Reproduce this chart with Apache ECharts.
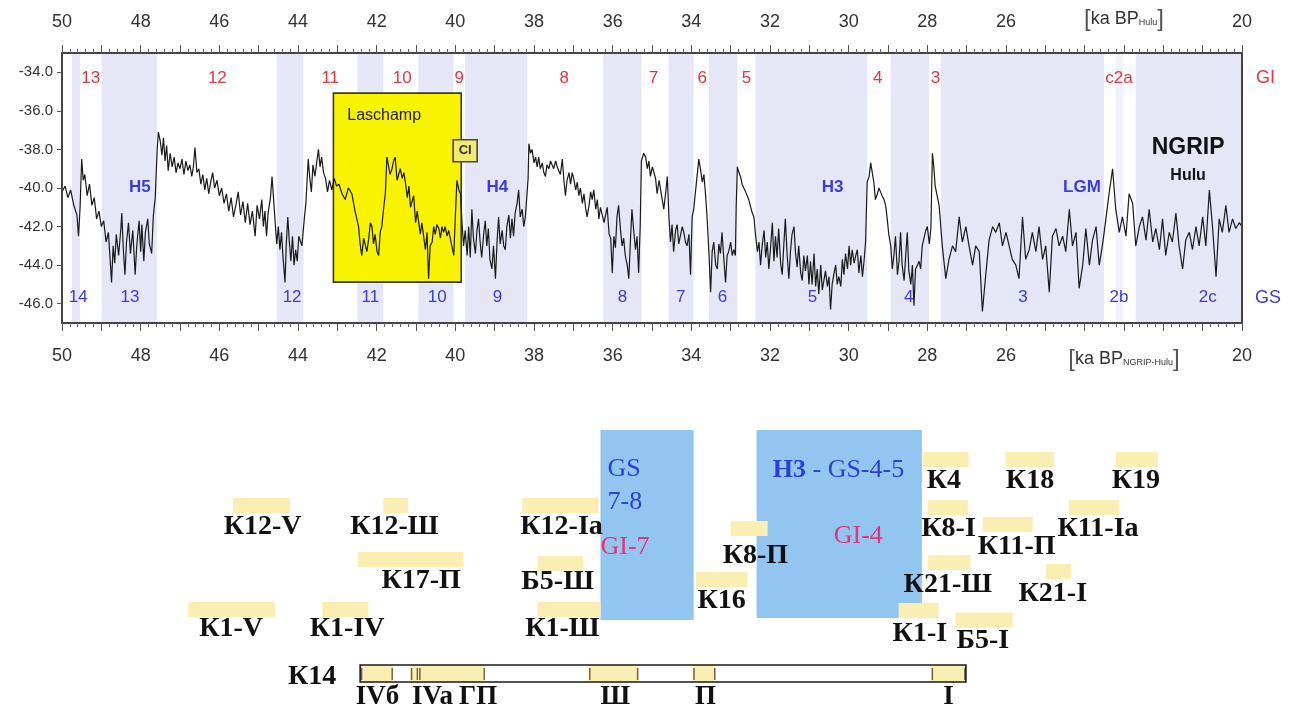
<!DOCTYPE html>
<html><head><meta charset="utf-8">
<script src="https://cdn.jsdelivr.net/npm/echarts@6/dist/echarts.min.js"></script>
<style>html,body{margin:0;padding:0;background:#fff}#c{width:1295px;height:709px}</style>
</head><body><div id="c"></div>
<script>
// ---------- DATA ----------
// NGRIP d18O (permil) vs age (ka BP)
const ngripPoints = [
[50.00,-40.2],[49.92,-39.9],[49.85,-40.5],[49.78,-40.1],[49.70,-40.9],[49.62,-41.4],[49.58,-42.5],[49.54,-41.0],[49.50,-38.5],[49.46,-39.6],
[49.42,-39.3],[49.36,-40.4],[49.30,-39.8],[49.24,-40.9],[49.18,-40.5],[49.12,-41.6],[49.06,-41.2],[49.00,-42.0],[48.94,-41.7],[48.88,-42.8],
[48.82,-42.3],[48.78,-43.6],[48.74,-44.9],[48.70,-43.0],[48.66,-43.9],[48.62,-42.4],[48.56,-43.5],[48.50,-42.0],[48.48,-41.3],[48.44,-43.2],
[48.40,-44.5],[48.36,-42.8],[48.31,-41.8],[48.26,-43.4],[48.20,-42.2],[48.14,-44.5],[48.10,-43.0],[48.04,-41.7],[48.00,-43.3],[47.97,-41.9],
[47.92,-43.8],[47.88,-42.3],[47.82,-41.6],[47.78,-42.9],[47.72,-43.4],[47.68,-41.5],[47.63,-40.5],[47.58,-38.0],[47.55,-37.1],[47.50,-37.6],
[47.46,-38.3],[47.42,-37.4],[47.38,-38.6],[47.34,-37.8],[47.30,-39.1],[47.25,-38.2],[47.20,-38.9],[47.15,-38.4],[47.10,-39.2],[47.05,-38.7],
[47.00,-39.0],[46.95,-38.5],[46.90,-39.3],[46.85,-38.6],[46.80,-39.1],[46.75,-38.8],[46.70,-39.4],[46.66,-38.9],[46.62,-37.9],[46.57,-39.2],
[46.52,-39.0],[46.47,-39.8],[46.42,-39.3],[46.37,-40.1],[46.32,-39.5],[46.27,-40.3],[46.22,-39.7],[46.17,-39.2],[46.12,-40.0],[46.06,-39.6],
[46.00,-40.4],[45.94,-40.0],[45.88,-40.8],[45.82,-40.3],[45.76,-41.2],[45.70,-40.5],[45.64,-41.5],[45.58,-40.9],[45.52,-40.2],[45.46,-41.4],
[45.40,-40.7],[45.34,-41.8],[45.28,-40.8],[45.22,-41.9],[45.16,-41.2],[45.09,-42.5],[45.04,-40.9],[44.98,-41.6],[44.92,-40.6],[44.88,-42.0],
[44.84,-41.2],[44.80,-42.5],[44.76,-41.3],[44.70,-40.5],[44.66,-39.4],[44.62,-40.6],[44.58,-41.8],[44.54,-42.9],[44.50,-42.0],[44.46,-43.2],
[44.42,-42.3],[44.38,-43.6],[44.33,-44.9],[44.30,-43.0],[44.26,-41.5],[44.22,-42.8],[44.18,-43.8],[44.14,-42.5],[44.10,-44.0],[44.06,-43.2],
[44.02,-43.8],[43.98,-42.5],[43.90,-43.0],[43.84,-41.6],[43.80,-40.8],[43.74,-38.5],[43.70,-39.5],[43.66,-40.2],[43.62,-38.8],[43.57,-39.4],
[43.52,-38.6],[43.48,-38.0],[43.44,-38.9],[43.40,-38.4],[43.35,-39.2],[43.30,-39.5],[43.25,-40.2],[43.20,-39.6],[43.14,-40.1],[43.08,-39.5],
[43.02,-39.9],[42.96,-39.8],[42.88,-40.3],[42.80,-40.6],[42.72,-40.0],[42.63,-40.3],[42.55,-41.2],[42.46,-42.0],[42.42,-42.9],[42.38,-43.5],
[42.33,-42.6],[42.29,-42.5],[42.25,-43.3],[42.20,-42.6],[42.16,-41.8],[42.12,-42.0],[42.08,-42.9],[42.04,-42.4],[41.99,-43.3],[41.95,-43.5],
[41.91,-42.3],[41.87,-42.0],[41.82,-41.0],[41.78,-40.3],[41.74,-38.4],[41.70,-38.5],[41.66,-39.3],[41.61,-39.0],[41.57,-38.6],[41.53,-38.4],
[41.48,-39.6],[41.44,-39.7],[41.40,-39.0],[41.35,-39.5],[41.31,-39.2],[41.27,-39.7],[41.22,-40.5],[41.18,-39.9],[41.14,-41.0],[41.10,-41.1],
[41.06,-40.4],[41.01,-41.8],[40.97,-41.2],[40.93,-41.1],[40.89,-42.4],[40.85,-41.8],[40.80,-42.6],[40.76,-43.2],[40.72,-42.3],[40.68,-44.7],
[40.64,-43.0],[40.59,-42.8],[40.55,-42.0],[40.51,-42.4],[40.47,-41.9],[40.42,-42.1],[40.38,-42.6],[40.34,-42.0],[40.30,-42.3],[40.26,-42.0],
[40.21,-42.5],[40.17,-42.2],[40.13,-42.6],[40.09,-42.5],[40.04,-43.5],[40.00,-41.5],[39.96,-39.6],[39.91,-40.1],[39.87,-40.3],[39.83,-41.8],
[39.79,-43.0],[39.75,-42.2],[39.70,-43.5],[39.66,-42.0],[39.62,-43.6],[39.58,-41.1],[39.54,-42.6],[39.49,-43.4],[39.45,-42.2],[39.41,-41.6],
[39.37,-42.8],[39.33,-43.6],[39.28,-42.4],[39.24,-41.7],[39.20,-43.0],[39.16,-42.1],[39.12,-43.7],[39.07,-44.2],[39.03,-43.0],[38.98,-44.7],
[38.94,-42.8],[38.90,-41.5],[38.86,-42.9],[38.81,-42.2],[38.77,-43.0],[38.73,-43.2],[38.69,-42.0],[38.64,-41.4],[38.60,-42.6],[38.56,-41.6],
[38.52,-42.5],[38.48,-41.3],[38.43,-40.8],[38.39,-40.1],[38.35,-41.5],[38.30,-41.1],[38.26,-42.0],[38.22,-41.5],[38.18,-41.6],[38.15,-39.5],
[38.13,-37.7],[38.09,-38.2],[38.05,-38.0],[38.00,-38.7],[37.96,-38.4],[37.92,-38.9],[37.88,-38.4],[37.84,-39.0],[37.79,-38.7],[37.75,-39.2],
[37.71,-39.4],[37.67,-38.8],[37.62,-39.0],[37.58,-38.6],[37.54,-38.7],[37.50,-39.0],[37.45,-38.6],[37.41,-38.9],[37.37,-38.9],[37.33,-39.3],
[37.28,-38.5],[37.24,-39.6],[37.20,-40.4],[37.16,-39.6],[37.11,-39.2],[37.07,-39.8],[37.03,-39.2],[36.99,-39.5],[36.94,-40.1],[36.90,-39.7],
[36.86,-40.4],[36.82,-40.0],[36.77,-40.8],[36.73,-40.3],[36.69,-41.0],[36.65,-41.5],[36.60,-40.9],[36.56,-40.2],[36.52,-40.6],[36.48,-40.1],
[36.43,-41.1],[36.39,-40.6],[36.35,-41.6],[36.31,-41.0],[36.26,-40.9],[36.22,-41.8],[36.18,-41.8],[36.14,-41.0],[36.09,-42.4],[36.05,-42.6],
[36.01,-44.4],[35.97,-42.5],[35.93,-43.1],[35.89,-41.5],[35.85,-40.9],[35.80,-42.2],[35.76,-43.0],[35.72,-42.6],[35.68,-43.5],[35.63,-44.0],
[35.59,-44.7],[35.55,-42.8],[35.51,-41.1],[35.47,-42.1],[35.42,-43.2],[35.38,-42.5],[35.34,-44.4],[35.30,-42.0],[35.27,-38.6],[35.21,-38.2],
[35.16,-38.4],[35.12,-39.0],[35.08,-38.6],[35.04,-39.4],[34.99,-38.9],[34.95,-38.9],[34.91,-39.5],[34.87,-40.3],[34.82,-39.6],[34.78,-39.7],
[34.74,-40.6],[34.70,-41.1],[34.65,-40.2],[34.61,-39.4],[34.57,-41.5],[34.53,-42.8],[34.49,-41.9],[34.45,-43.3],[34.40,-42.2],[34.36,-41.9],
[34.32,-42.9],[34.28,-42.5],[34.23,-42.0],[34.19,-42.3],[34.15,-42.8],[34.11,-43.0],[34.06,-42.4],[34.02,-44.5],[33.98,-41.5],[33.94,-41.1],
[33.90,-40.3],[33.86,-39.5],[33.81,-38.5],[33.77,-39.0],[33.72,-39.7],[33.68,-39.3],[33.64,-40.3],[33.60,-41.5],[33.55,-43.5],[33.51,-45.4],
[33.47,-43.3],[33.43,-42.8],[33.38,-44.0],[33.34,-44.2],[33.30,-42.9],[33.26,-43.4],[33.22,-42.3],[33.17,-43.8],[33.13,-44.9],[33.09,-43.5],
[33.05,-43.3],[33.00,-42.8],[32.96,-43.5],[32.92,-43.2],[32.88,-43.5],[32.86,-41.0],[32.83,-38.9],[32.79,-39.2],[32.75,-39.4],[32.71,-39.8],
[32.66,-39.9],[32.62,-40.2],[32.58,-40.3],[32.54,-40.6],[32.49,-40.6],[32.45,-41.3],[32.41,-41.5],[32.37,-42.4],[32.32,-43.3],[32.28,-42.8],
[32.24,-44.0],[32.20,-43.0],[32.15,-42.2],[32.11,-43.6],[32.07,-42.8],[32.03,-44.2],[31.99,-43.2],[31.94,-41.8],[31.90,-43.8],[31.86,-42.5],
[31.82,-43.6],[31.78,-42.1],[31.73,-43.9],[31.69,-44.5],[31.65,-43.0],[31.61,-41.6],[31.56,-43.6],[31.52,-44.7],[31.48,-43.3],[31.44,-42.4],
[31.39,-42.0],[31.35,-43.4],[31.31,-44.1],[31.27,-43.0],[31.22,-44.4],[31.18,-44.8],[31.14,-43.5],[31.10,-44.3],[31.05,-43.5],[31.01,-45.0],
[30.97,-43.8],[30.93,-45.0],[30.88,-43.4],[30.84,-45.1],[30.80,-44.2],[30.76,-45.5],[30.71,-44.0],[30.67,-45.3],[30.63,-45.4],[30.59,-44.3],
[30.54,-45.1],[30.50,-44.6],[30.46,-46.3],[30.42,-45.0],[30.37,-44.4],[30.33,-44.0],[30.29,-45.0],[30.25,-44.6],[30.20,-45.1],[30.16,-43.7],
[30.12,-44.5],[30.08,-43.4],[30.03,-44.2],[29.99,-43.0],[29.95,-44.0],[29.91,-43.2],[29.86,-43.9],[29.82,-43.5],[29.78,-43.2],[29.74,-44.4],
[29.69,-43.5],[29.65,-44.6],[29.61,-43.8],[29.57,-42.8],[29.53,-39.7],[29.48,-39.4],[29.44,-38.7],[29.40,-39.2],[29.36,-39.7],[29.32,-40.6],
[29.27,-40.3],[29.23,-40.0],[29.19,-40.2],[29.15,-40.4],[29.10,-40.6],[29.06,-40.9],[29.02,-41.6],[28.98,-42.4],[28.93,-43.0],[28.89,-44.2],
[28.85,-43.5],[28.81,-42.5],[28.76,-44.5],[28.72,-43.8],[28.68,-42.3],[28.64,-44.0],[28.59,-44.8],[28.55,-43.5],[28.51,-42.3],[28.47,-44.3],
[28.42,-45.0],[28.38,-44.0],[28.34,-46.1],[28.30,-44.2],[28.25,-44.0],[28.21,-43.8],[28.17,-44.2],[28.13,-43.0],[28.08,-43.0],[28.04,-42.2],
[28.00,-42.0],[27.95,-42.9],[27.91,-42.1],[27.89,-40.0],[27.87,-38.2],[27.84,-38.8],[27.80,-39.9],[27.75,-40.0],[27.70,-40.9],[27.62,-43.0],
[27.53,-44.7],[27.45,-43.7],[27.36,-43.0],[27.28,-43.3],[27.19,-41.5],[27.11,-42.8],[27.02,-42.0],[26.94,-43.0],[26.85,-44.0],[26.77,-43.0],
[26.68,-43.3],[26.60,-46.4],[26.51,-44.4],[26.43,-42.7],[26.34,-42.0],[26.26,-42.3],[26.17,-41.8],[26.09,-43.0],[26.00,-42.3],[25.92,-43.0],
[25.84,-43.7],[25.75,-44.0],[25.67,-44.7],[25.58,-41.5],[25.50,-43.7],[25.41,-43.2],[25.33,-42.3],[25.24,-43.3],[25.16,-42.0],[25.07,-43.7],
[24.99,-43.0],[24.90,-45.4],[24.82,-42.5],[24.73,-42.1],[24.65,-43.0],[24.56,-42.5],[24.48,-43.3],[24.39,-41.1],[24.31,-43.0],[24.22,-42.3],
[24.14,-45.2],[24.05,-44.0],[23.97,-42.1],[23.88,-44.0],[23.80,-42.7],[23.71,-42.0],[23.63,-44.0],[23.55,-43.0],[23.46,-41.6],[23.38,-40.3],
[23.29,-39.0],[23.21,-41.1],[23.12,-42.3],[23.04,-41.5],[22.95,-42.5],[22.87,-40.3],[22.78,-40.8],[22.70,-43.0],[22.61,-42.0],[22.53,-41.5],
[22.44,-42.7],[22.36,-41.1],[22.27,-42.8],[22.19,-42.1],[22.10,-43.2],[22.02,-41.6],[21.94,-43.5],[21.85,-42.3],[21.77,-42.8],[21.68,-41.3],
[21.60,-43.0],[21.51,-44.2],[21.43,-42.7],[21.34,-42.3],[21.26,-43.2],[21.17,-42.0],[21.09,-43.0],[21.00,-41.5],[20.92,-43.0],[20.83,-40.1],
[20.75,-42.0],[20.66,-44.6],[20.58,-41.6],[20.50,-42.3],[20.41,-40.9],[20.33,-42.3],[20.24,-41.6],[20.16,-42.1],[20.07,-41.8],[20.00,-42.0]
];

// Greenland stadials (shaded), ka
const gsBandFrom = [49.75, 48.99, 44.54, 42.49, 40.94, 39.75, 36.24, 34.58, 33.55, 32.37, 28.93, 27.66, 22.70];
const gsBandTo   = [49.54, 47.59, 43.86, 41.83, 40.05, 38.17, 35.27, 33.94, 32.83, 29.53, 27.96, 23.51, 20.00];
const faintBandFrom = [23.21];
const faintBandTo   = [23.03];

// Interstadial (GI) and stadial (GS) numbers
const giNames = ['13','12','11','10','9','8','7','6','5','4','3','c2a'];
const giKa    = [49.27, 46.05, 43.18, 41.35, 39.90, 37.23, 34.96, 33.72, 32.60, 29.26, 27.79, 23.13];
const giLevel = -34.31;
const gsNames = ['14','13','12','11','10','9','8','7','6','5','4','3','2b','2c'];
const gsKa    = [49.59, 48.27, 44.15, 42.16, 40.46, 38.93, 35.75, 34.27, 33.21, 30.92, 28.47, 25.57, 23.13, 20.87];
const gsLevel = -45.65;
const heinrichNames = ['H5','H4','H3','LGM'];
const heinrichKa    = [48.02, 38.93, 30.41, 24.07];
const heinrichLevel = -39.98;

// Laschamp excursion and CI tephra
const laschampFrom = 43.10, laschampTo = 39.85, laschampTop = -35.08, laschampBottom = -44.88;
const laschampLabelKa = 41.81, laschampLabelVal = -36.22;
const ciKa = 39.75, ciVal = -38.07;

// axis ticks
const xTickLabels = [50,48,46,44,42,40,38,36,34,32,30,28,26,23,20];
const yTickLabels = [-46,-44,-42,-40,-38,-36,-34];

// Lower panel: archaeological layers (ka) and row levels
const siteNames    = ['К12-V','К12-Ш','К12-Ia','К17-П','Б5-Ш','К1-V','К1-IV','К1-Ш','К8-П','К16','К4','К18','К19','К8-I','К11-П','К11-Ia','К21-Ш','К21-I','К1-I','Б5-I'];
const siteFrom     = [45.65,41.83,38.30,42.47,37.91,46.79,43.38,37.91,33.00,33.89,28.12,26.01,23.21,27.99,26.59,24.40,27.99,24.99,28.73,27.28];
const siteTo       = [44.20,41.20,36.36,39.80,36.74,44.58,42.21,36.31,32.06,32.57,26.95,24.78,22.14,26.97,25.32,23.13,26.90,24.35,27.71,25.83];
const siteRow      = [8.55,8.55,8.55,13.95,14.35,18.95,18.95,18.95,10.85,15.95,3.95,3.95,3.95,8.75,10.45,8.75,14.25,15.15,19.05,20.0];
const siteLabelKa  = [44.90,41.55,37.30,40.87,37.40,45.70,42.75,37.28,32.37,33.23,27.58,25.39,22.70,27.46,25.73,23.66,27.48,24.81,28.19,26.59];
const siteLabelRow = [10.7,10.7,10.7,16.1,16.2,20.9,20.9,20.9,13.6,18.1,6.1,6.1,6.1,10.9,12.7,10.9,16.5,17.4,21.4,22.1];

// Kostenki 14 column
const k14Name = 'К14', k14NameKa = 43.64, k14NameRow = 25.7;
const k14From = 42.42, k14To = 27.02, k14Row = 25.35;
const k14LayerNames = ['IVб','IVa','ГП','Ш','П','I'];
const k14LayerFrom  = [42.42, 41.15, 40.94, 36.62, 33.97, 27.91];
const k14LayerTo    = [41.58, 40.94, 39.24, 35.34, 33.38, 27.02];
const k14LabelKa    = [41.98, 40.58, 39.42, 35.93, 33.64, 27.46];
const k14LabelRow   = 27.7;

// Cold-event boxes
const boxFrom = [36.31, 32.34];
const boxTo   = [33.94, 28.14];
const boxTop  = [1.0, 1.0];
const boxBottom = [20.0, 19.8];
const boxTexts    = ['GS', '7-8', 'GI-7', '{b|H3} - GS-4-5', 'GI-4'];
const boxTextKa   = [36.13, 36.13, 36.31, 31.93, 30.38];
const boxTextRow  = [4.9, 8.2, 12.7, 5.0, 11.6];

// ---------- CHART ----------
const SANS = 'Liberation Sans, Arial, sans-serif';
const SERIF = 'Liberation Serif, Times New Roman, serif';
const RED = '#ee3340', BLUE = '#3a3ae6', BOXBLUE = '#2b3fd6', PINK = '#e8317a';

function rectBetween(api, xa, xb, ya, yb) {
  const p1 = api.coord([xa, ya]), p2 = api.coord([xb, yb]);
  return {x: Math.min(p1[0], p2[0]), y: Math.min(p1[1], p2[1]),
          width: Math.abs(p2[0] - p1[0]), height: Math.abs(p2[1] - p1[1])};
}

function textSeries(axisIdx, kas, levels, texts, style, z) {
  return {
    type: 'custom', xAxisIndex: axisIdx.x, yAxisIndex: axisIdx.y, z: z || 6, silent: true, clip: false,
    data: kas.map((k, i) => [k, Array.isArray(levels) ? levels[i] : levels]),
    renderItem: (p, api) => {
      const pt = api.coord([api.value(0), api.value(1)]);
      const i = p.dataIndex;
      const st = typeof style === 'function' ? style(i) : style;
      return {type: 'text', x: pt[0], y: pt[1],
        style: Object.assign({text: texts[i], align: 'center', verticalAlign: 'middle'}, st)};
    }
  };
}

const TOP = {x: 0, y: 0}, BOT = {x: 2, y: 2};

const xAxisCommon = {
  type: 'value', min: 20, max: 50, inverse: true, interval: 1, z: 10,
  axisLine: {show: true, lineStyle: {color: '#444', width: 2}},
  axisTick: {show: true, length: 8, lineStyle: {color: '#555', width: 1}},
  minorTick: {show: true, splitNumber: 5, length: 4, lineStyle: {color: '#666', width: 1}},
  splitLine: {show: false}, minorSplitLine: {show: false},
  axisLabel: {
    customValues: xTickLabels, margin: 23, color: '#333', fontSize: 18, fontFamily: SANS,
    rich: {br: {fontSize: 24, color: '#555', fontFamily: SANS, fontWeight: 'lighter'},
           sub: {fontSize: 9, color: '#333', fontFamily: SANS, padding: [8, 0, 0, 0]},
           t: {fontSize: 18, color: '#333', fontFamily: SANS}}
  }
};

const option = {
  animation: false,
  backgroundColor: '#fff',
  grid: [
    {left: 62, right: 53, top: 53, height: 270, containLabel: false, outerBoundsMode: 'none'},
    {left: 62, right: 53, top: 420, height: 280, containLabel: false, outerBoundsMode: 'none'}
  ],
  xAxis: [
    Object.assign({}, xAxisCommon, {gridIndex: 0, position: 'top',
      axisLabel: Object.assign({}, xAxisCommon.axisLabel, {margin: 22,
        formatter: v => v === 23 ? '{br|[}{t|ka BP}{sub|Hulu}{br|]}' : String(v)})}),
    Object.assign({}, xAxisCommon, {gridIndex: 0, position: 'bottom',
      axisLabel: Object.assign({}, xAxisCommon.axisLabel, {margin: 24,
        formatter: v => v === 23 ? '{br|[}{t|ka BP}{sub|NGRIP-Hulu}{br|]}' : String(v)})}),
    {type: 'value', gridIndex: 1, min: 20, max: 50, inverse: true, show: false}
  ],
  yAxis: [
    {type: 'value', gridIndex: 0, min: -47, max: -33, z: 10,
      axisLine: {show: true, lineStyle: {color: '#444', width: 2}},
      axisTick: {show: true, length: 5, customValues: yTickLabels, lineStyle: {color: '#555'}},
      axisLabel: {customValues: yTickLabels, formatter: v => v.toFixed(1), margin: 9,
        color: '#333', fontSize: 15, fontFamily: SANS},
      splitLine: {show: false}},
    {type: 'value', gridIndex: 0, min: -47, max: -33, position: 'right', z: 10,
      axisLine: {show: true, lineStyle: {color: '#444', width: 2}},
      axisTick: {show: false}, axisLabel: {show: false}, splitLine: {show: false}},
    {type: 'value', gridIndex: 1, min: 0, max: 28, inverse: true, show: false}
  ],
  graphic: [
    {type: 'text', left: 1256, top: 69, style: {text: 'GI', fill: RED, fontSize: 18, fontFamily: SANS}},
    {type: 'text', left: 1255, top: 289, style: {text: 'GS', fill: BLUE, fontSize: 18, fontFamily: SANS}}
  ],
  series: [
    // stadial bands
    {type: 'custom', xAxisIndex: 0, yAxisIndex: 0, z: 1, silent: true,
      data: gsBandFrom.map((f, i) => [f, gsBandTo[i]]),
      renderItem: (p, api) => ({type: 'rect', shape: rectBetween(api, api.value(0), api.value(1), -33, -47),
        style: {fill: '#e5e7f7'}})},
    {type: 'custom', xAxisIndex: 0, yAxisIndex: 0, z: 1, silent: true,
      data: faintBandFrom.map((f, i) => [f, faintBandTo[i]]),
      renderItem: (p, api) => ({type: 'rect', shape: rectBetween(api, api.value(0), api.value(1), -33, -47),
        style: {fill: '#f1f2fb'}})},
    // Laschamp box
    {type: 'custom', xAxisIndex: 0, yAxisIndex: 0, z: 2, silent: true,
      data: [[laschampFrom, laschampTo, laschampTop, laschampBottom]],
      renderItem: (p, api) => {
        const lp = api.coord([laschampLabelKa, laschampLabelVal]);
        return {type: 'group', children: [
          {type: 'rect', shape: rectBetween(api, api.value(0), api.value(1), api.value(2), api.value(3)),
            style: {fill: '#f8f400', stroke: '#3a3a2a', lineWidth: 1.6}},
          {type: 'text', x: lp[0], y: lp[1], style: {text: 'Laschamp', fill: '#1a1a1a', fontSize: 16,
            fontFamily: SANS, align: 'center', verticalAlign: 'middle'}}
        ]};
      }},
    // NGRIP curve
    {type: 'line', xAxisIndex: 0, yAxisIndex: 0, z: 3, data: ngripPoints, symbol: 'none', silent: true,
      lineStyle: {color: '#1a1a1a', width: 1.2}},
    // CI box
    {type: 'custom', xAxisIndex: 0, yAxisIndex: 0, z: 4, silent: true, clip: false,
      data: [[ciKa, ciVal]],
      renderItem: (p, api) => {
        const c = api.coord([api.value(0), api.value(1)]);
        return {type: 'group', children: [
          {type: 'rect', shape: {x: c[0] - 12, y: c[1] - 11, width: 24, height: 22},
            style: {fill: '#f2ec6e', stroke: '#4a4630', lineWidth: 1.6}},
          {type: 'text', x: c[0], y: c[1], style: {text: 'CI', fill: '#333', fontSize: 13, fontWeight: 'bold',
            fontFamily: SANS, align: 'center', verticalAlign: 'middle'}}
        ]};
      }},
    textSeries(TOP, giKa, giLevel, giNames, {fill: RED, fontSize: 17, fontFamily: SANS}),
    textSeries(TOP, gsKa, gsLevel, gsNames, {fill: BLUE, fontSize: 17, fontFamily: SANS}),
    textSeries(TOP, heinrichKa, heinrichLevel, heinrichNames, {fill: BLUE, fontSize: 17, fontWeight: 'bold', fontFamily: SANS}),
    textSeries(TOP, [21.37], [-37.92], ['NGRIP'], {fill: '#111', fontSize: 23, fontWeight: 'bold', fontFamily: SANS}),
    textSeries(TOP, [21.37], [-39.36], ['Hulu'], {fill: '#111', fontSize: 16, fontWeight: 'bold', fontFamily: SANS}),

    // ---- lower panel ----
    {type: 'custom', xAxisIndex: 2, yAxisIndex: 2, z: 2, silent: true,
      data: boxFrom.map((f, i) => [f, boxTo[i], boxTop[i], boxBottom[i]]),
      renderItem: (p, api) => ({type: 'rect', shape: rectBetween(api, api.value(0), api.value(1), api.value(2), api.value(3)),
        style: {fill: '#92c5ef'}})},
    {type: 'custom', xAxisIndex: 2, yAxisIndex: 2, z: 3, silent: true, clip: false,
      data: boxTextKa.map((k, i) => [k, boxTextRow[i]]),
      renderItem: (p, api) => {
        const c = api.coord([api.value(0), api.value(1)]);
        const t = boxTexts[p.dataIndex];
        return {type: 'text', x: c[0], y: c[1], style: {text: t, fill: t.indexOf('GI') === 0 ? PINK : BOXBLUE,
          fontSize: 26, fontFamily: SERIF, align: 'left', verticalAlign: 'middle',
          rich: {b: {fontWeight: 'bold', fontSize: 26, fontFamily: SERIF, fill: BOXBLUE}}}};
      }},
    // site bars
    {type: 'custom', xAxisIndex: 2, yAxisIndex: 2, z: 4, silent: true,
      data: siteFrom.map((f, i) => [f, siteTo[i], siteRow[i]]),
      renderItem: (p, api) => {
        const a = api.coord([api.value(0), api.value(2)]), b = api.coord([api.value(1), api.value(2)]);
        return {type: 'rect', shape: {x: Math.min(a[0], b[0]), y: a[1] - 7.5, width: Math.abs(b[0] - a[0]), height: 15},
          style: {fill: '#fbeeb2'}};
      }},
    textSeries(BOT, siteLabelKa, siteLabelRow, siteNames, {fill: '#111', fontSize: 28, fontWeight: 'bold', fontFamily: SERIF}, 5),
    // K14 column
    {type: 'custom', xAxisIndex: 2, yAxisIndex: 2, z: 4, silent: true, clip: false,
      data: [[k14From, k14To, k14Row]],
      renderItem: (p, api) => {
        const a = api.coord([api.value(0), api.value(2)]), b = api.coord([api.value(1), api.value(2)]);
        const h = 17, y0 = a[1] - h / 2;
        const kids = [{type: 'rect', shape: {x: a[0], y: y0, width: b[0] - a[0], height: h}, style: {fill: '#fff'}}];
        k14LayerFrom.forEach((f, i) => {
          const l = api.coord([f, api.value(2)])[0], r = api.coord([k14LayerTo[i], api.value(2)])[0];
          kids.push({type: 'rect', shape: {x: l, y: y0, width: r - l, height: h}, style: {fill: '#fbeeb2'}});
          kids.push({type: 'line', shape: {x1: l + 1.5, y1: y0 + 3, x2: l + 1.5, y2: y0 + h - 2}, style: {stroke: '#6f6644', lineWidth: 1.5}});
          kids.push({type: 'line', shape: {x1: r - 1, y1: y0 + 3, x2: r - 1, y2: y0 + h - 2}, style: {stroke: '#6f6644', lineWidth: 1.5}});
        });
        kids.push({type: 'rect', shape: {x: a[0], y: y0, width: b[0] - a[0], height: h},
          style: {fill: 'none', stroke: '#1a1a1a', lineWidth: 1.6}});
        return {type: 'group', children: kids};
      }},
    textSeries(BOT, [k14NameKa], [k14NameRow], [k14Name], {fill: '#111', fontSize: 28, fontWeight: 'bold', fontFamily: SERIF}, 5),
    textSeries(BOT, k14LabelKa, k14LabelRow, k14LayerNames, {fill: '#111', fontSize: 27, fontWeight: 'bold', fontFamily: SERIF}, 5)
  ]
};

const chart = echarts.init(document.getElementById('c'), null, {renderer: 'canvas'});
chart.setOption(option);
</script>
</body></html>
